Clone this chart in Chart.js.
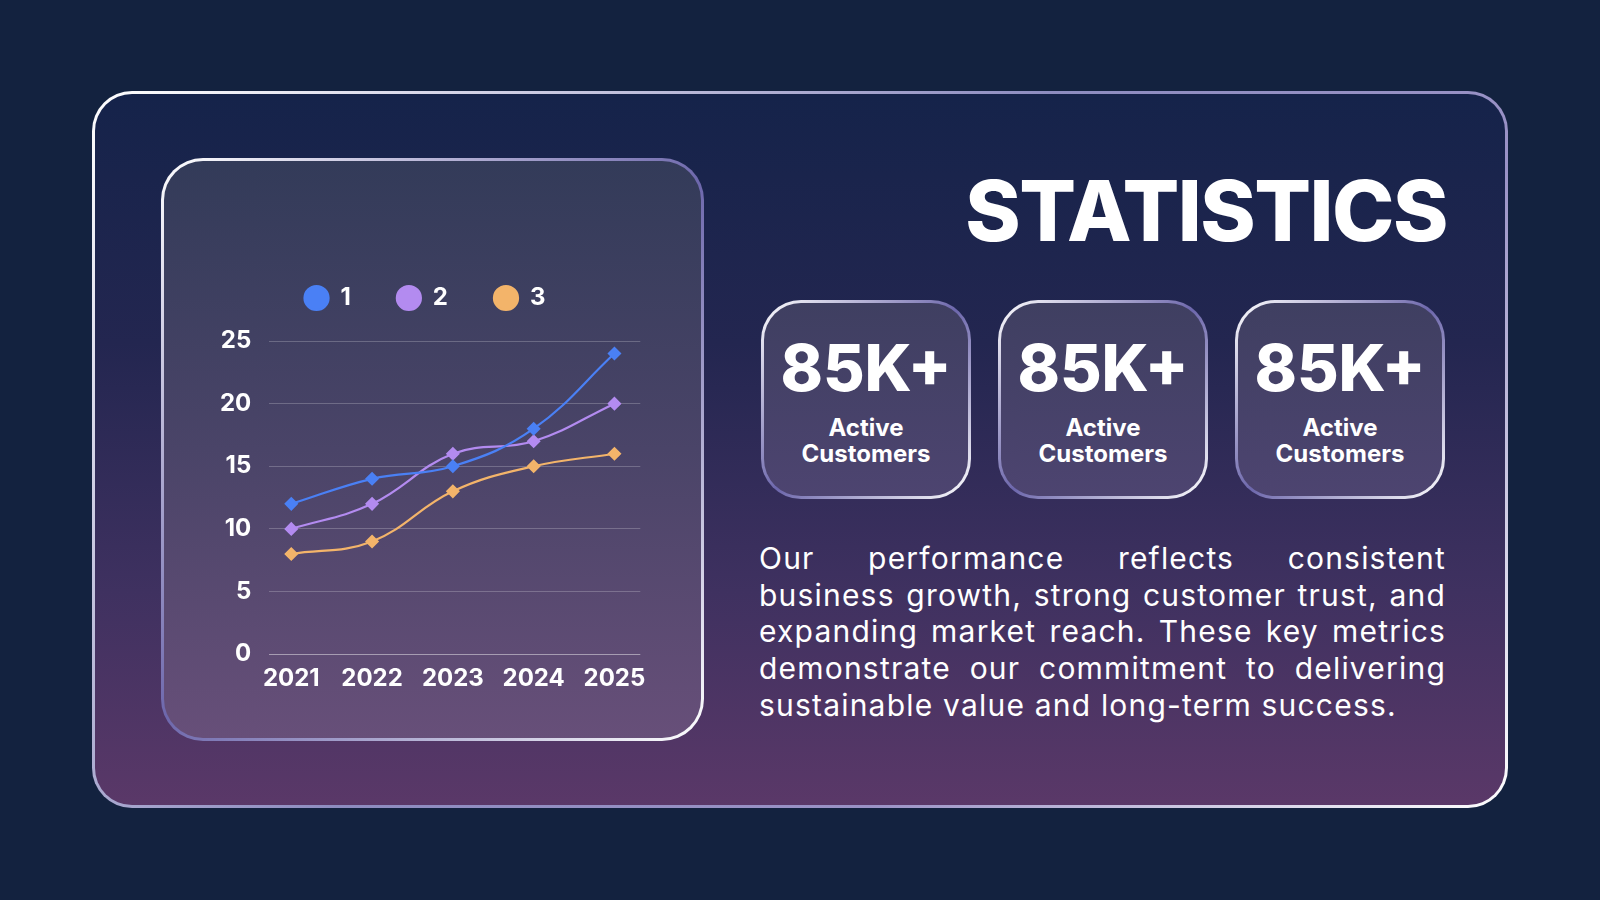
<!DOCTYPE html>
<html>
<head>
<meta charset="utf-8">
<script src="https://cdn.jsdelivr.net/npm/chart.js@4.4.1/dist/chart.umd.min.js"></script>
<style>
  html, body { margin: 0; padding: 0; }
  body { width: 1600px; height: 900px; background: #13223f; position: relative; overflow: hidden; font-family: Inter, "Noto Sans", sans-serif; color: #fff; }
  .frame {
    position: absolute; left: 92px; top: 91px; width: 1416px; height: 717px; box-sizing: border-box;
    border: 3px solid transparent; border-radius: 40px;
    background: linear-gradient(180deg, #15234a 0%, #232650 35%, #3f3160 70%, #5a3868 100%) padding-box,
                linear-gradient(135deg, #ffffff 0%, #8d8cc0 45%, #9a92c6 70%, #ffffff 100%) border-box;
  }
  .panel {
    position: absolute; left: 161px; top: 158px; width: 543px; height: 583px; box-sizing: border-box;
    border: 3px solid transparent; border-radius: 42px;
    background: linear-gradient(180deg, #333b59 0%, #4a4468 50%, #674f79 100%) padding-box,
                linear-gradient(135deg, #ffffff 0%, #6d67ac 50%, #ffffff 100%) border-box;
  }
  .card {
    position: absolute; top: 300px; width: 210px; height: 199px; box-sizing: border-box;
    border: 3px solid transparent; border-radius: 40px;
    background: linear-gradient(180deg, #3f3f61 0%, #4d4470 100%) padding-box,
                linear-gradient(135deg, #ffffff 0%, #6d67ac 50%, #ffffff 100%) border-box;
    text-align: center;
  }
  .card .big { position: absolute; left: 0; right: 0; top: 30px; font-size: 64px; font-weight: 800; line-height: 70px; }
  .card .small { position: absolute; left: 0; right: 0; top: 112px; font-size: 24px; font-weight: 700; line-height: 26px; }
  .title { position: absolute; right: 153px; top: 161px; font-size: 84px; font-weight: 800; line-height: 100px; letter-spacing: -1.5px; }
  .para { position: absolute; left: 759px; width: 687px; top: 540px; font-size: 30px; line-height: 36.7px; font-weight: 400; letter-spacing: 1.2px; }
  .para div { text-align: justify; text-align-last: justify; white-space: nowrap; }
  .para div:last-child { text-align-last: left; }
  #wrap { position: absolute; left: 202px; top: 240px; width: 446px; height: 455px; }
</style>
</head>
<body>
<div class="frame"></div>
<div class="panel"></div>
<div id="wrap"><canvas id="lineChart"></canvas></div>
<div class="title">STATISTICS</div>
<div id="cards"></div>
<div class="para" id="para"></div>
<script>
const years = [2021, 2022, 2023, 2024, 2025];
const series1 = [12, 14, 15, 18, 24];
const series2 = [10, 12, 16, 17, 20];
const series3 = [8, 9, 13, 15, 16];
const seriesNames = ['1', '2', '3'];
const seriesColors = ['#4a80f5', '#b38bf0', '#f3b46a'];
const yTicks = [0, 5, 10, 15, 20, 25];

const cardValues = ['85K+', '85K+', '85K+'];
const cardLabels = ['Active<br>Customers', 'Active<br>Customers', 'Active<br>Customers'];
const paraLines = [
    'Our performance reflects consistent',
    'business growth, strong customer trust, and',
    'expanding market reach. These key metrics',
    'demonstrate our commitment to delivering',
    'sustainable value and long-term success.'
];

// cards + paragraph
const cardLefts = [761, 998, 1235];
const cardsEl = document.getElementById('cards');
cardValues.forEach((v, i) => {
    const c = document.createElement('div');
    c.className = 'card';
    c.style.left = cardLefts[i] + 'px';
    c.innerHTML = '<div class="big">' + v + '</div><div class="small">' + cardLabels[i] + '</div>';
    cardsEl.appendChild(c);
});
const paraEl = document.getElementById('para');
paraLines.forEach(t => {
    const d = document.createElement('div');
    d.textContent = t;
    paraEl.appendChild(d);
});

const toPoints = arr => arr.map((v, i) => ({ x: years[i], y: v }));
const allSeries = [series1, series2, series3];

const ctx = document.getElementById('lineChart').getContext('2d');
Chart.defaults.font.family = 'Inter, "Noto Sans", sans-serif';
Chart.defaults.color = '#ffffff';

// a bit more room under the legend
const legendGap = {
    id: 'legendGap',
    beforeInit(chart) {
        const fit = chart.legend.fit;
        chart.legend.fit = function() {
            fit.bind(chart.legend)();
            this.height += 21;
        };
    }
};

new Chart(ctx, {
    type: 'line',
    data: {
        datasets: allSeries.map((s, i) => ({
            label: seriesNames[i],
            data: toPoints(s),
            borderColor: seriesColors[i],
            backgroundColor: seriesColors[i],
            borderWidth: 2.2,
            tension: 0.4,
            pointStyle: 'rectRot',
            pointRadius: 5.5,
            pointHoverRadius: 5.5
        }))
    },
    options: {
        responsive: true,
        maintainAspectRatio: false,
        animation: false,
        layout: { padding: 0 },
        plugins: {
            legend: {
                position: 'top',
                labels: {
                    usePointStyle: true,
                    pointStyle: 'circle',
                    boxWidth: 24,
                    boxHeight: 17,
                    padding: 46,
                    color: '#ffffff',
                    font: { size: 24, weight: 'bold' }
                }
            },
            tooltip: { enabled: false }
        },
        scales: {
            x: {
                type: 'linear',
                min: 2020.728,
                max: 2025.32,
                afterBuildTicks: scale => { scale.ticks = years.map(v => ({ value: v })); },
                grid: { display: false },
                border: { display: false },
                ticks: {
                    padding: 2,
                    color: '#ffffff',
                    font: { size: 24, weight: 'bold' },
                    callback: v => String(v)
                }
            },
            y: {
                min: 0,
                max: 25,
                afterBuildTicks: scale => { scale.ticks = yTicks.map(v => ({ value: v })); },
                grid: {
                    drawTicks: false,
                    color: c => c.tick && c.tick.value === 0 ? 'rgba(255,255,255,0.45)' : 'rgba(255,255,255,0.22)',
                    lineWidth: 1
                },
                border: { display: false },
                ticks: {
                    padding: 18,
                    color: '#ffffff',
                    font: { size: 24, weight: 'bold' }
                }
            }
        }
    },
    plugins: [legendGap]
});
</script>
</body>
</html>
